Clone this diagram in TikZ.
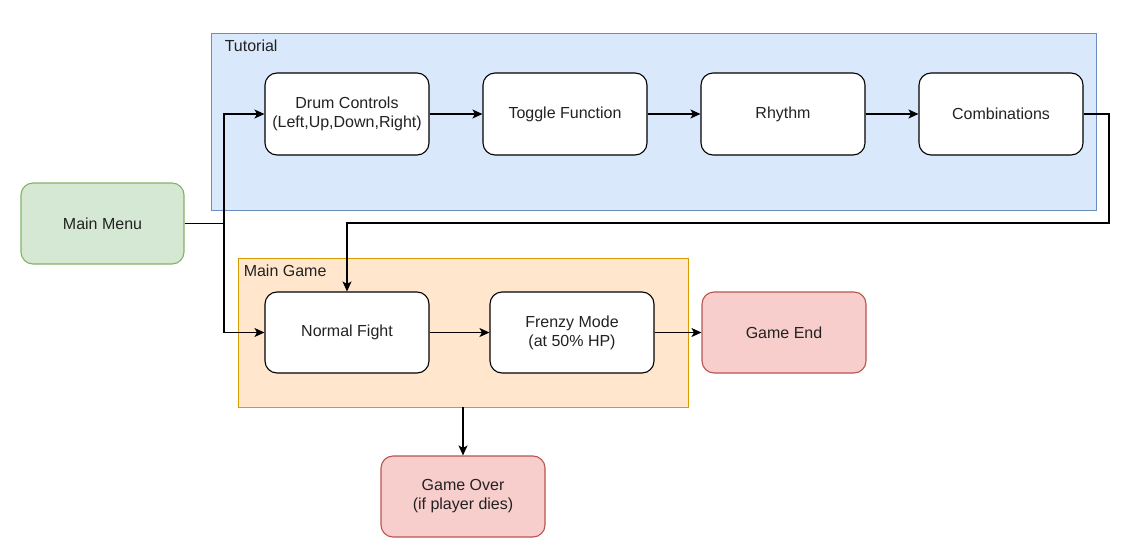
\documentclass[tikz,border=0pt]{standalone}
\usepackage{fontspec}
\setmainfont{Liberation Sans}
\usepackage{tikz}
\usetikzlibrary{arrows.meta, positioning}
\definecolor{tutfill}{HTML}{DAE8FC}
\definecolor{tutdraw}{HTML}{6C8EBF}
\definecolor{gamefill}{HTML}{FFE6CC}
\definecolor{gamedraw}{HTML}{D79B00}
\definecolor{menufill}{HTML}{D5E8D4}
\definecolor{menudraw}{HTML}{82B366}
\definecolor{endfill}{HTML}{F8CECC}
\definecolor{enddraw}{HTML}{B85450}
\definecolor{txtgray}{HTML}{222222}
\tikzset{
  stepbox/.style={draw, rounded corners=12pt, minimum height=82pt, minimum width=164pt,
      align=center, fill=white, line width=1.1pt, text=txtgray},
  colbox/.style={stepbox, fill=#1fill, draw=#1draw},
  groupbox/.style={draw=#1draw, fill=#1fill, line width=0.9pt, inner sep=0pt},
  grouplbl/.style={anchor=north west, inner sep=0pt, text=txtgray},
  flowarrow/.style={-{Stealth[length=10pt, width=9pt, inset=2.5pt]}, line width=1.2pt},
  flowline/.style={line width=1.2pt},
}

\begin{document}
\begin{tikzpicture}[x=1pt, y=-1pt, font=\fontsize{16}{19}\selectfont, node distance=52.9pt]
      \useasboundingbox (0,0) rectangle (1131,548);

      % === Containers ===
      \node[groupbox=tut, minimum width=885pt, minimum height=177pt] (tutorial) at (653.5,121.5) {};
      \node[grouplbl] at ([xshift=14pt, yshift=-7pt]tutorial.north west) {Tutorial};
      \node[groupbox=game, minimum width=450pt, minimum height=149pt] (maingame) at (463,332.5) {};
      \node[grouplbl] at ([xshift=6pt, yshift=-7pt]maingame.north west) {Main Game};

      % === Tutorial steps (top row) ===
      \node[stepbox] (drum) at (347,114) {Drum Controls\\(Left,Up,Down,Right)};
      \node[stepbox, right=of drum] (toggle) {Toggle Function};
      \node[stepbox, right=of toggle] (rhythm) {Rhythm};
      \node[stepbox, right=of rhythm] (combo) {Combinations};

      % === Menu ===
      \node[colbox=menu, minimum width=163pt, minimum height=81pt] (menu) at (102.5,223.5) {Main Menu};

      % === Main game (middle row) ===
      \node[stepbox, minimum height=81pt] (normal) at (347,332.5) {Normal Fight};
      \node[stepbox, minimum height=81pt, right=59.9pt of normal] (frenzy) {Frenzy Mode\\(at 50\% HP)};
      \node[colbox=end, minimum height=81pt, right=46.9pt of frenzy] (gameend) {Game End};
      \node[colbox=end, minimum height=81pt] (gameover) at (463,496.5) {Game Over\\(if player dies)};

      % Arrows
      \coordinate (split) at (224,223.5);
      \coordinate (wrap) at (1109,223);
      \draw[flowline] (menu.east) -- (split);
      \draw[flowarrow] (split) |- (drum.west);
      \draw[flowarrow] (split) |- (normal.west);
      \draw[flowarrow] (drum) -- (toggle);
      \draw[flowarrow] (toggle) -- (rhythm);
      \draw[flowarrow] (rhythm) -- (combo);
      \draw[flowarrow] (combo.east) -| (wrap) -| (normal.north);
      \draw[flowarrow] (normal) -- (frenzy);
      \draw[flowarrow] (frenzy) -- (gameend);
      \draw[flowarrow] (maingame.south) -- (gameover.north);
    \end{tikzpicture}
\end{document}
